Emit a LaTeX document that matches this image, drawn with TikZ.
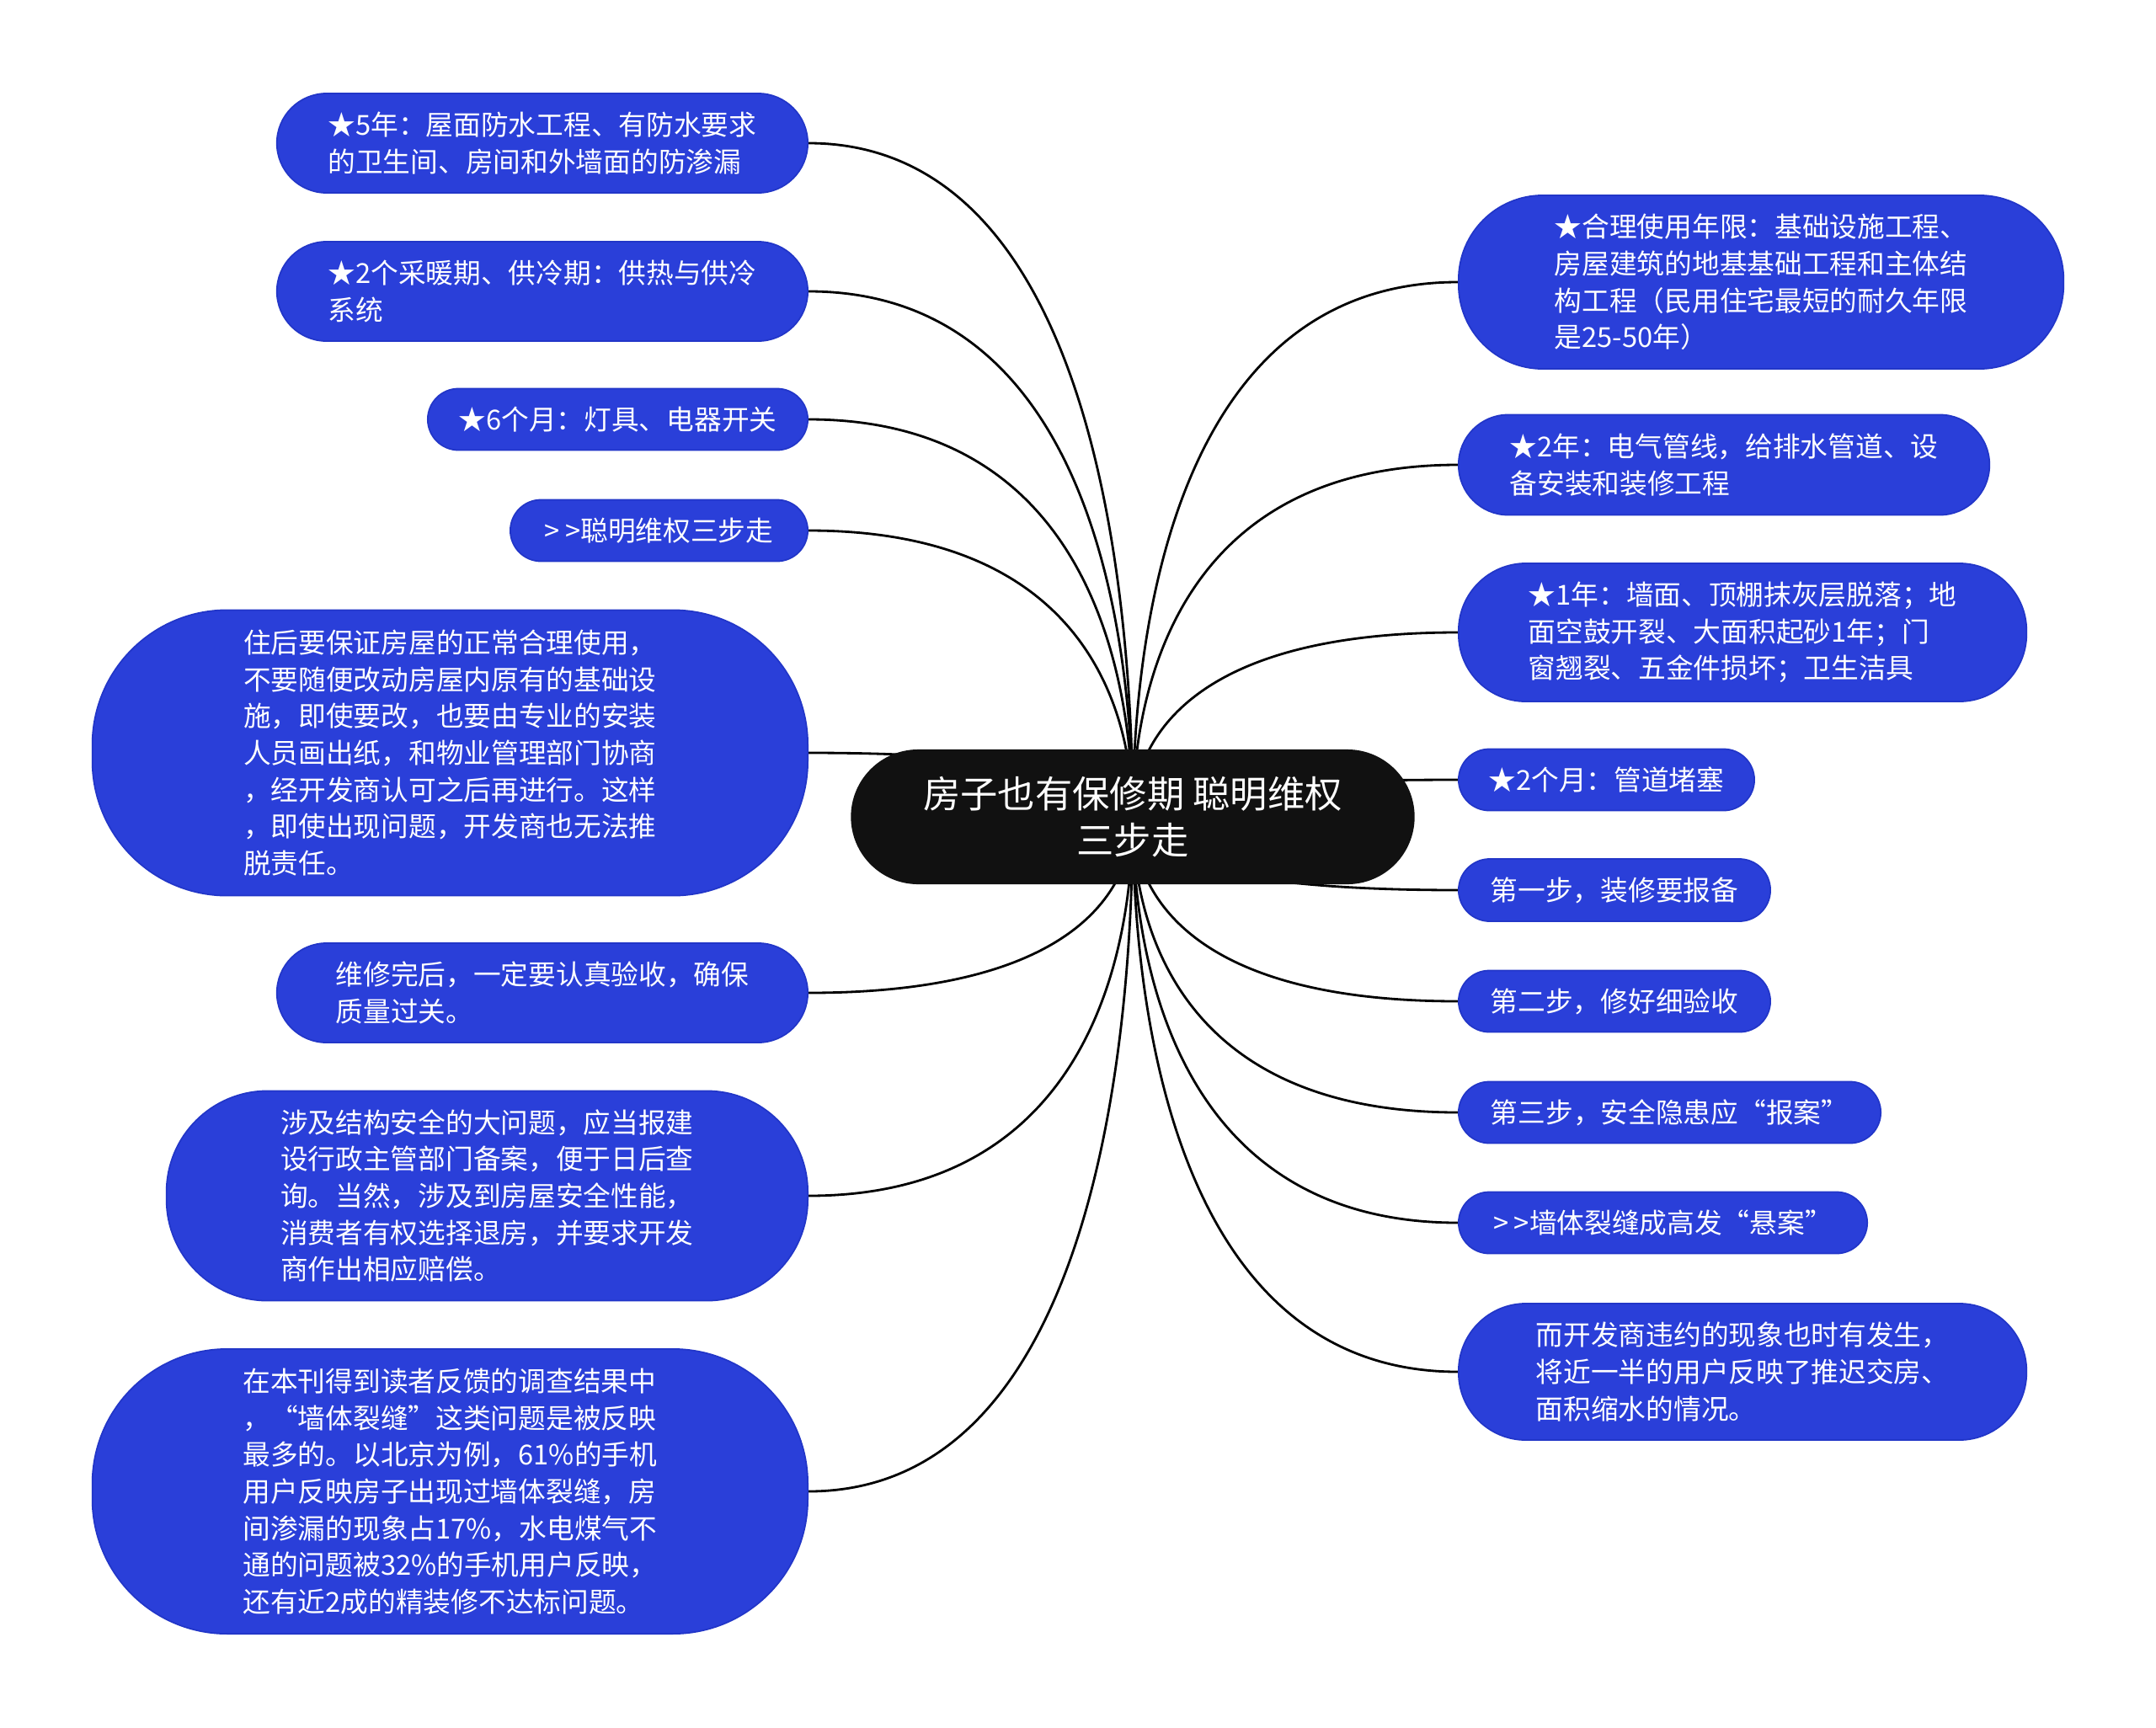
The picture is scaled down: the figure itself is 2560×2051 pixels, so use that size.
\documentclass[tikz,border=0pt]{standalone}
\usepackage{fontspec}
\setmainfont{Noto Sans CJK SC}
\usetikzlibrary{calc,backgrounds}

\definecolor{leafblue}{HTML}{2A3FD9}
\definecolor{leafline}{HTML}{2236C8}
\definecolor{rootblack}{HTML}{111111}

\begin{document}
\begin{tikzpicture}[
    x=0.01cm, y=-0.01cm,
    leaf/.style={draw=leafline, line width=0.5pt, fill=leafblue, text=white, align=left, font=\fontsize{9.3pt}{12.4pt}\selectfont},
    lleaf/.style={leaf, anchor=east},
    rleaf/.style={leaf, anchor=west},
    root/.style={fill=rootblack, text=white, align=center, rounded corners=0.8cm, minimum width=6.69cm, minimum height=1.6cm, font=\fontsize{12.6pt}{15.8pt}\selectfont},
    branch/.style={line width=0.8pt, draw=black, to path={.. controls ($(\tikztostart)!0.3!(\tikztostart|-\tikztotarget)$) and ($(\tikztotarget)!0.9!(\tikztostart|-\tikztotarget)$) .. (\tikztotarget)}},
]

\useasboundingbox (0, 0) rectangle (2560, 2051);

% Root
\node[root] (root) at (1345, 970) {房子也有保修期 聪明维权\\三步走};

% Left branches
\node[lleaf, minimum width=6.3cm, minimum height=1.18cm, rounded corners=0.59cm] (l1) at (960, 170) {★5年：屋面防水工程、有防水要求\\的卫生间、房间和外墙面的防渗漏};
\node[lleaf, minimum width=6.3cm, minimum height=1.18cm, rounded corners=0.59cm] (l2) at (960, 346) {★2个采暖期、供冷期：供热与供冷\\系统};
\node[lleaf, minimum width=4.51cm, minimum height=0.73cm, rounded corners=0.365cm] (l3) at (960, 498) {★6个月：灯具、电器开关};
\node[lleaf, minimum width=3.53cm, minimum height=0.73cm, rounded corners=0.365cm] (l4) at (960, 630) {>\kern0.2em>聪明维权三步走};
\node[lleaf, minimum width=8.49cm, minimum height=3.39cm, rounded corners=1.6cm] (l5) at (960, 894) {住后要保证房屋的正常合理使用，\\不要随便改动房屋内原有的基础设\\施，即使要改，也要由专业的安装\\人员画出纸，和物业管理部门协商\\，经开发商认可之后再进行。这样\\，即使出现问题，开发商也无法推\\脱责任。};
\node[lleaf, minimum width=6.3cm, minimum height=1.18cm, rounded corners=0.59cm] (l6) at (960, 1179) {维修完后，一定要认真验收，确保\\质量过关。};
\node[lleaf, minimum width=7.61cm, minimum height=2.49cm, rounded corners=1.2cm] (l7) at (960, 1420) {涉及结构安全的大问题，应当报建\\设行政主管部门备案，便于日后查\\询。当然，涉及到房屋安全性能，\\消费者有权选择退房，并要求开发\\商作出相应赔偿。};
\node[lleaf, minimum width=8.49cm, minimum height=3.38cm, rounded corners=1.6cm] (l8) at (960, 1771) {在本刊得到读者反馈的调查结果中\\，“墙体裂缝”这类问题是被反映\\最多的。以北京为例，61\%的手机\\用户反映房子出现过墙体裂缝，房\\间渗漏的现象占17\%，水电煤气不\\通的问题被32\%的手机用户反映，\\还有近2成的精装修不达标问题。};

% Right branches
\node[rleaf, minimum width=7.18cm, minimum height=2.06cm, rounded corners=1.0cm] (r1) at (1731, 335) {★合理使用年限：基础设施工程、\\房屋建筑的地基基础工程和主体结\\构工程（民用住宅最短的耐久年限\\是25-50年）};
\node[rleaf, minimum width=6.3cm, minimum height=1.19cm, rounded corners=0.59cm] (r2) at (1731, 552) {★2年：电气管线，给排水管道、设\\备安装和装修工程};
\node[rleaf, minimum width=6.74cm, minimum height=1.64cm, rounded corners=0.8cm] (r3) at (1731, 751) {★1年：墙面、顶棚抹灰层脱落；地\\面空鼓开裂、大面积起砂1年；门\\窗翘裂、五金件损坏；卫生洁具};
\node[rleaf, minimum width=3.51cm, minimum height=0.73cm, rounded corners=0.365cm] (r4) at (1731, 926) {★2个月：管道堵塞};
\node[rleaf, minimum width=3.7cm, minimum height=0.74cm, rounded corners=0.37cm] (r5) at (1731, 1057) {第一步，装修要报备};
\node[rleaf, minimum width=3.7cm, minimum height=0.73cm, rounded corners=0.365cm] (r6) at (1731, 1189) {第二步，修好细验收};
\node[rleaf, minimum width=5.01cm, minimum height=0.73cm, rounded corners=0.365cm] (r7) at (1731, 1321) {第三步，安全隐患应“报案”};
\node[rleaf, minimum width=4.85cm, minimum height=0.73cm, rounded corners=0.365cm] (r8) at (1731, 1452) {>\kern0.2em>墙体裂缝成高发“悬案”};
\node[rleaf, minimum width=6.74cm, minimum height=1.62cm, rounded corners=0.8cm] (r9) at (1731, 1629) {而开发商违约的现象也时有发生，\\将近一半的用户反映了推迟交房、\\面积缩水的情况。};

% Connectors (behind the nodes)
\begin{scope}[on background layer]
\draw[branch] (root.center) to (l1.east);
\draw[branch] (root.center) to (l2.east);
\draw[branch] (root.center) to (l3.east);
\draw[branch] (root.center) to (l4.east);
\draw[branch] (root.center) to (l5.east);
\draw[branch] (root.center) to (l6.east);
\draw[branch] (root.center) to (l7.east);
\draw[branch] (root.center) to (l8.east);

\draw[branch] (root.center) to (r1.west);
\draw[branch] (root.center) to (r2.west);
\draw[branch] (root.center) to (r3.west);
\draw[branch] (root.center) to (r4.west);
\draw[branch] (root.center) to (r5.west);
\draw[branch] (root.center) to (r6.west);
\draw[branch] (root.center) to (r7.west);
\draw[branch] (root.center) to (r8.west);
\draw[branch] (root.center) to (r9.west);
\end{scope}

\end{tikzpicture}
\end{document}
